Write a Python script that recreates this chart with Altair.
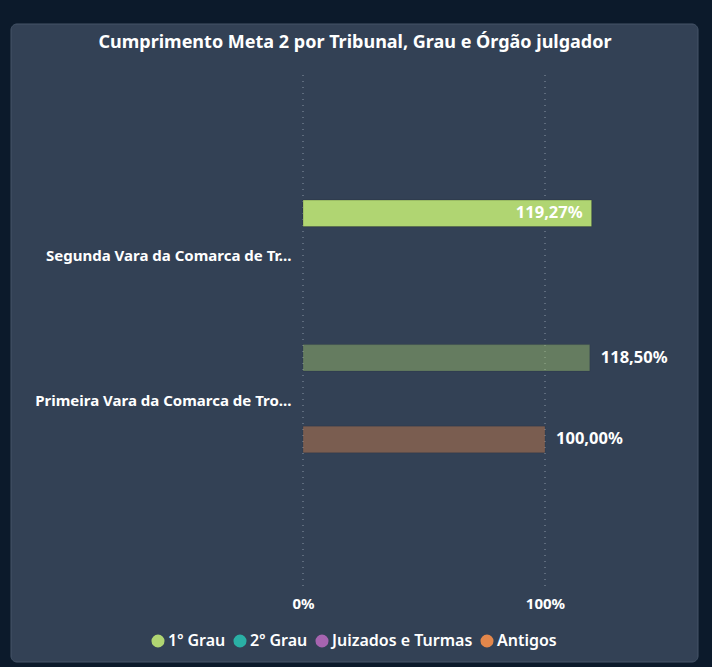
import altair as alt
import pandas as pd

orgaos = ["Segunda Vara da Comarca de Tr...", "Primeira Vara da Comarca de Tro...", "Primeira Vara da Comarca de Tro..."]
serie_row = ["1º Grau", "1º Grau", "Antigos"]
valores = [119.27, 118.50, 100.00]
destaque = [True, False, False]

categorias = ["Segunda Vara da Comarca de Tr...", "Primeira Vara da Comarca de Tro..."]
series_todas = ["1º Grau", "2º Grau", "Juizados e Turmas", "Antigos"]
cores = ["#b0d572", "#2ab0a5", "#a764b0", "#e4874b"]
ticks_x = [0, 100]

df = pd.DataFrame({
    "orgao": orgaos,
    "serie": serie_row,
    "valor": valores,
    "destaque": destaque,
})
df["rotulo"] = df["valor"].map(lambda v: f"{v:.2f}".replace(".", ",") + "%")
df_ticks = pd.DataFrame({"valor": ticks_x})

FONT = "Noto Sans"
W, H = 363, 515
PAD_L, PAD_T = 303, 75

x_scale = alt.Scale(domain=[0, 150], nice=False)
x_enc = alt.X("valor:Q", scale=x_scale,
              axis=alt.Axis(values=ticks_x, labelExpr="datum.value + '%'", title=None,
                            domain=False, ticks=False, grid=False, labelColor="#ffffff",
                            labelFontWeight="bold", labelFontSize=15, labelFont=FONT,
                            labelPadding=6, labelFlush=False, zindex=1))
y_enc = alt.Y("orgao:N", sort=categorias,
              scale=alt.Scale(domain=categorias, paddingInner=0, paddingOuter=0.782, align=0.473),
              axis=alt.Axis(title=None, domain=False, ticks=False, labelColor="#ffffff",
                            labelFontWeight="bold", labelFontSize=15, labelFont=FONT,
                            labelPadding=12, labelLimit=320, labelOffset=2, zindex=1))
yoff = alt.YOffset("serie:N", scale=alt.Scale(domain=series_todas, paddingInner=0.025, paddingOuter=0.67))

base = alt.Chart(df)

card = alt.Chart(alt.Data(values=[{}])).mark_rect(
    fill="#334155", stroke="#465569", strokeWidth=1, cornerRadius=6, clip=False
).encode(
    x=alt.value(11 - PAD_L), x2=alt.value(698 - PAD_L),
    y=alt.value(24 - PAD_T), y2=alt.value(662 - PAD_T),
)

grid = alt.Chart(df_ticks).mark_rule(
    color="#a0aab8", strokeDash=[1, 5], strokeWidth=1, opacity=0.8
).encode(
    x=alt.X("valor:Q", scale=x_scale),
    y=alt.value(0), y2=alt.value(H),
)

bars = base.mark_bar(stroke="#000000", strokeOpacity=0.2, strokeWidth=1).encode(
    x=x_enc,
    y=y_enc,
    yOffset=yoff,
    color=alt.Color("serie:N", scale=alt.Scale(domain=series_todas, range=cores),
                    legend=alt.Legend(title=None, orient="none", direction="horizontal",
                                      legendX=150 - PAD_L, legendY=633 - PAD_T,
                                      symbolType="circle", symbolSize=170, symbolOpacity=1,
                                      symbolStrokeWidth=0,
                                      labelColor="#ffffff", labelFontSize=16, labelFont=FONT,
                                      labelFontWeight=600, columnPadding=6, symbolOffset=0,
                                      labelOffset=2, zindex=1)),
    opacity=alt.condition("datum.destaque", alt.value(1.0), alt.value(0.4)),
)

lab_in = base.transform_filter("datum.destaque").mark_text(
    align="right", baseline="middle", dx=-9, color="#ffffff", fontWeight="bold",
    fontSize=16.5, font=FONT
).encode(x="valor:Q", y=alt.Y("orgao:N", sort=categorias), yOffset="serie:N", text="rotulo:N")

lab_out = base.transform_filter("!datum.destaque").mark_text(
    align="left", baseline="middle", dx=11, color="#ffffff", fontWeight="bold",
    fontSize=16.5, font=FONT
).encode(x="valor:Q", y=alt.Y("orgao:N", sort=categorias), yOffset="serie:N", text="rotulo:N")

chart = alt.layer(card, grid, bars, lab_in, lab_out).properties(
    width=W, height=H,
    title=alt.TitleParams("Cumprimento Meta 2 por Tribunal, Grau e Órgão julgador",
                          color="#ffffff", fontSize=18, font=FONT, fontWeight="bold",
                          anchor="middle", dx=355 - (PAD_L + W / 2), offset=-28, zindex=1),
    autosize=alt.AutoSizeParams(type="none"),
    padding={"left": PAD_L, "top": PAD_T, "right": 712 - PAD_L - W, "bottom": 667 - PAD_T - H},
    background="#0c1a2b",
).configure_view(stroke=None)

chart.save("out.html", embed_options={"renderer": "svg", "actions": False})
